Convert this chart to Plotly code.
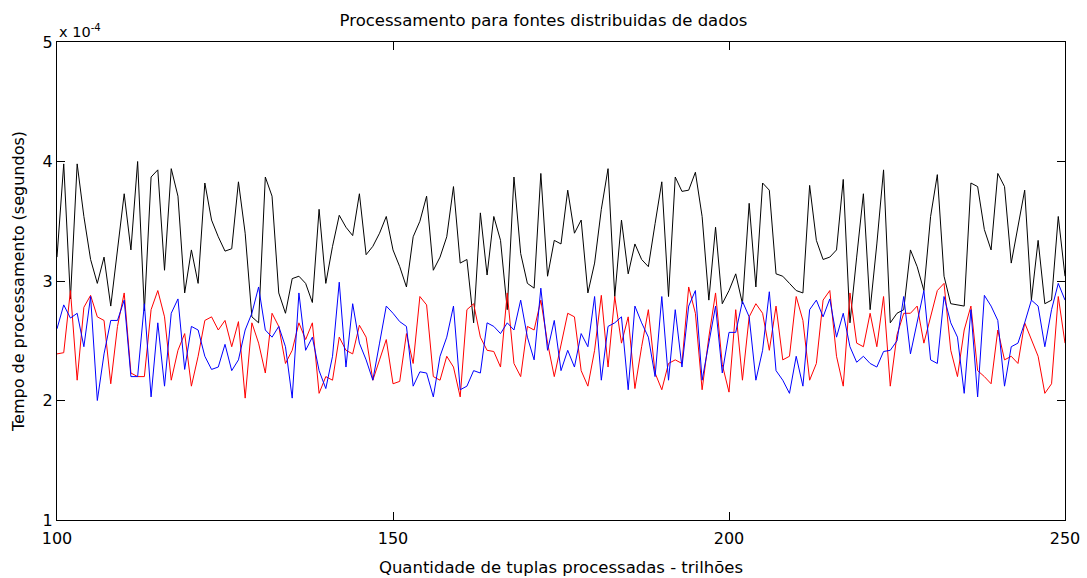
import plotly.graph_objects as go

x_vals = list(range(100, 251))

black = [3.20, 3.98, 2.85, 3.98, 3.54, 3.18, 2.98, 3.20, 2.79, 3.26,
         3.73, 3.26, 4.00, 2.75, 3.87, 3.93, 3.09, 3.94, 3.71, 2.90,
         3.26, 2.98, 3.82, 3.51, 3.37, 3.25, 3.27, 3.83, 3.40, 2.70,
         2.65, 3.87, 3.71, 2.90, 2.73, 3.02, 3.04, 2.98, 2.82, 3.60,
         2.98, 3.29, 3.55, 3.45, 3.38, 3.73, 3.22, 3.29, 3.40, 3.54,
         3.26, 3.12, 2.95, 3.37, 3.50, 3.71, 3.09, 3.20, 3.37, 3.79,
         3.15, 3.18, 2.65, 3.57, 3.05, 3.54, 3.34, 2.76, 3.87, 3.23,
         2.98, 2.94, 3.90, 3.04, 3.34, 3.31, 3.76, 3.40, 3.51, 2.90,
         3.15, 3.60, 3.94, 2.87, 3.51, 3.06, 3.31, 3.18, 3.12, 3.48,
         3.83, 2.87, 3.87, 3.75, 3.76, 3.91, 3.54, 2.84, 3.45, 2.81,
         2.92, 3.06, 2.81, 3.65, 2.95, 3.82, 3.76, 3.06, 3.04, 2.98,
         2.92, 2.90, 3.80, 3.34, 3.18, 3.20, 3.26, 3.85, 2.65, 3.20,
         3.73, 2.76, 3.31, 3.93, 2.65, 2.73, 2.76, 3.26, 3.12, 2.92,
         3.54, 3.89, 3.04, 2.81, 2.80, 2.79, 3.82, 3.79, 3.43, 3.26,
         3.90, 3.79, 3.15, 3.45, 3.76, 2.84, 3.34, 2.81, 2.84, 3.54,
         3.04]

red = [2.39, 2.40, 2.92, 2.17, 2.78, 2.88, 2.70, 2.67, 2.14, 2.62,
       2.90, 2.23, 2.20, 2.20, 2.76, 2.92, 2.70, 2.17, 2.42, 2.56,
       2.12, 2.37, 2.67, 2.70, 2.59, 2.67, 2.45, 2.66, 2.02, 2.65,
       2.48, 2.23, 2.73, 2.62, 2.31, 2.42, 2.65, 2.51, 2.65, 2.06,
       2.20, 2.17, 2.53, 2.42, 2.39, 2.63, 2.53, 2.17, 2.34, 2.51,
       2.14, 2.16, 2.56, 2.31, 2.87, 2.80, 2.20, 2.17, 2.37, 2.28,
       2.03, 2.76, 2.81, 2.53, 2.42, 2.41, 2.28, 2.90, 2.31, 2.20,
       2.62, 2.59, 2.84, 2.48, 2.20, 2.48, 2.73, 2.70, 2.25, 2.12,
       2.42, 2.88, 2.28, 2.87, 2.48, 2.70, 2.10, 2.45, 2.76, 2.23,
       2.09, 2.31, 2.34, 2.31, 2.95, 2.73, 2.09, 2.53, 2.90, 2.30,
       2.07, 2.76, 2.17, 2.70, 2.81, 2.73, 2.42, 2.79, 2.34, 2.37,
       2.87, 2.67, 2.17, 2.31, 2.84, 2.92, 2.37, 2.12, 2.90, 2.48,
       2.45, 2.73, 2.45, 2.87, 2.12, 2.55, 2.73, 2.73, 2.79, 2.48,
       2.70, 2.92, 2.98, 2.42, 2.20, 2.59, 2.79, 2.25, 2.20, 2.14,
       2.59, 2.34, 2.37, 2.31, 2.65, 2.51, 2.37, 2.06, 2.14, 2.87,
       2.48]

blue = [2.60, 2.80, 2.69, 2.73, 2.45, 2.87, 2.00, 2.39, 2.67, 2.67,
        2.84, 2.20, 2.20, 2.81, 2.03, 2.65, 2.12, 2.73, 2.85, 2.26,
        2.62, 2.59, 2.37, 2.26, 2.28, 2.47, 2.25, 2.34, 2.59, 2.73,
        2.95, 2.59, 2.53, 2.62, 2.45, 2.02, 2.90, 2.42, 2.53, 2.25,
        2.10, 2.37, 2.99, 2.28, 2.81, 2.48, 2.34, 2.17, 2.48, 2.79,
        2.73, 2.66, 2.62, 2.12, 2.24, 2.23, 2.03, 2.37, 2.53, 2.79,
        2.09, 2.12, 2.25, 2.23, 2.65, 2.62, 2.56, 2.65, 2.59, 2.84,
        2.53, 2.34, 2.94, 2.42, 2.67, 2.25, 2.42, 2.28, 2.56, 2.45,
        2.87, 2.17, 2.62, 2.65, 2.70, 2.09, 2.79, 2.65, 2.53, 2.20,
        2.87, 2.17, 2.76, 2.28, 2.79, 2.92, 2.17, 2.48, 2.79, 2.23,
        2.57, 2.57, 2.83, 2.70, 2.17, 2.42, 2.91, 2.25, 2.17, 2.06,
        2.37, 2.12, 2.76, 2.84, 2.70, 2.85, 2.53, 2.73, 2.45, 2.32,
        2.37, 2.31, 2.28, 2.41, 2.42, 2.50, 2.87, 2.39, 2.65, 2.92,
        2.34, 2.31, 2.87, 2.65, 2.53, 2.06, 2.76, 2.03, 2.88, 2.79,
        2.67, 2.12, 2.45, 2.48, 2.65, 2.84, 2.79, 2.45, 2.76, 2.98,
        2.84]

x_ticks = [100, 150, 200, 250]
y_ticks = [1, 2, 3, 4, 5]

font_family = "DejaVu Sans, Verdana, sans-serif"

fig = go.Figure()
fig.add_trace(go.Scatter(x=x_vals, y=black, mode="lines",
                         line=dict(color="black", width=1)))
fig.add_trace(go.Scatter(x=x_vals, y=red, mode="lines",
                         line=dict(color="#ff0000", width=1)))
fig.add_trace(go.Scatter(x=x_vals, y=blue, mode="lines",
                         line=dict(color="#0000ff", width=1)))

axis_common = dict(showline=True, linecolor="black", linewidth=1, mirror="ticks",
                   ticks="inside", ticklen=8, tickcolor="black", showgrid=False,
                   zeroline=False, automargin=False,
                   tickfont=dict(size=16, color="black", family=font_family))

fig.update_layout(
    width=1087, height=578,
    margin=dict(l=57, r=22, t=42, b=58),
    paper_bgcolor="white", plot_bgcolor="white",
    showlegend=False,
    font=dict(family=font_family, size=16, color="black"),
    title=dict(text="Processamento para fontes distribuidas de dados",
               x=0.5, xanchor="center", y=0.965, yanchor="middle",
               font=dict(size=16.5, family=font_family, color="black")),
    xaxis=dict(range=[100, 250], tickvals=x_ticks, ticktext=[str(v) for v in x_ticks],
               ticklabelstandoff=4,
               title=dict(text="Quantidade de tuplas processadas - trilhões", standoff=14,
                          font=dict(size=16.5, family=font_family)),
               **axis_common),
    yaxis=dict(range=[1, 5], tickvals=y_ticks, ticktext=[str(v) for v in y_ticks],
               title=dict(text="Tempo de processamento (segundos)", standoff=14,
                          font=dict(size=16, family=font_family)),
               **axis_common),
    annotations=[dict(text="x 10<sup>-4</sup>", xref="paper", yref="paper",
                      x=0.0, y=1.0, xanchor="left", yanchor="bottom", showarrow=False,
                      font=dict(size=14.5, family=font_family, color="black"))],
)

fig.write_html("out.html")
